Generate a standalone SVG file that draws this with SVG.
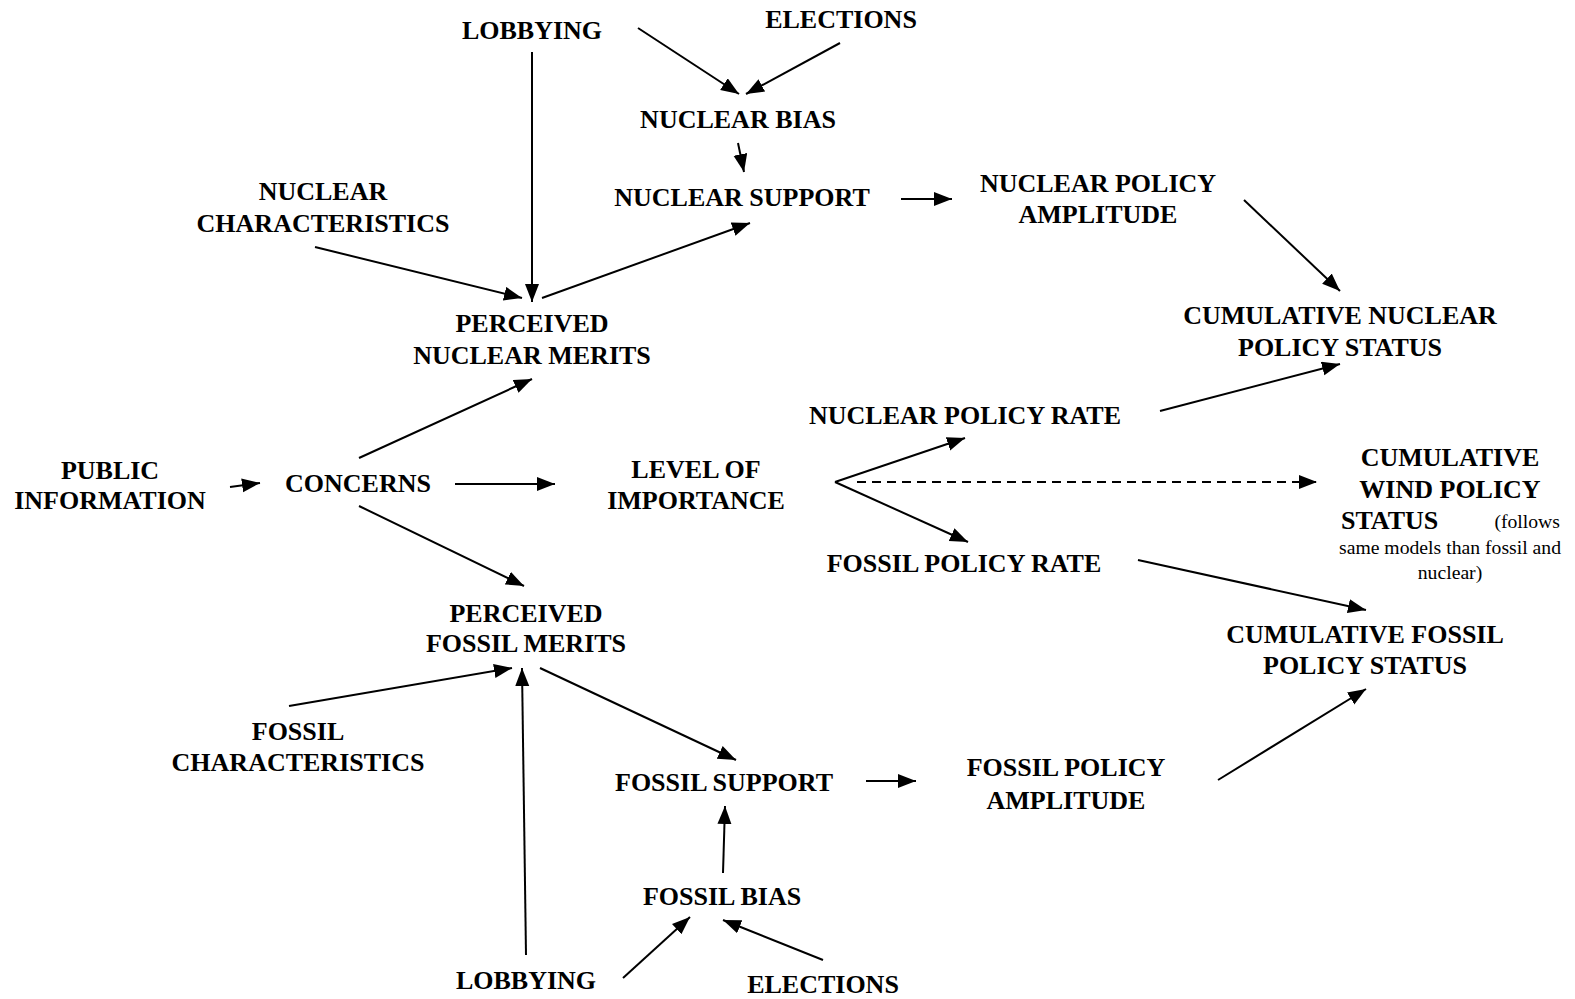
<svg xmlns="http://www.w3.org/2000/svg" width="1575" height="999" viewBox="0 0 1575 999">
<style>
text{font-family:"Liberation Serif","Times New Roman",serif;font-weight:bold;font-size:26px;fill:#000;text-anchor:middle}
text.note{font-weight:normal;font-size:19.7px}
.c line{stroke:#000;stroke-width:2;fill:none;marker-end:url(#ah)}
.c line.d{stroke-dasharray:9,6}
</style>
<defs>
<marker id="ah" markerUnits="userSpaceOnUse" markerWidth="19" markerHeight="15" refX="18" refY="7" orient="auto" viewBox="0 0 19 15">
<path d="M0,0 L18,7 L0,14 z" fill="#000"/>
</marker>
</defs>
<rect width="1575" height="999" fill="#fff"/>
<g id="lobbying-top"><text x="532" y="39">LOBBYING</text></g>
<g id="elections-top"><text x="841" y="28">ELECTIONS</text></g>
<g id="nuclear-bias"><text x="738" y="128">NUCLEAR BIAS</text></g>
<g id="nuclear-support"><text x="742" y="206">NUCLEAR SUPPORT</text></g>
<g id="nuclear-policy-amplitude"><text x="1098" y="192">NUCLEAR POLICY</text><text x="1098" y="223">AMPLITUDE</text></g>
<g id="nuclear-characteristics"><text x="323" y="200">NUCLEAR</text><text x="323" y="232">CHARACTERISTICS</text></g>
<g id="perceived-nuclear-merits"><text x="532" y="332">PERCEIVED</text><text x="532" y="364">NUCLEAR MERITS</text></g>
<g id="cumulative-nuclear"><text x="1340" y="324">CUMULATIVE NUCLEAR</text><text x="1340" y="356">POLICY STATUS</text></g>
<g id="nuclear-policy-rate"><text x="965" y="424">NUCLEAR POLICY RATE</text></g>
<g id="public-information"><text x="110" y="479">PUBLIC</text><text x="110" y="509">INFORMATION</text></g>
<g id="concerns"><text x="358" y="492">CONCERNS</text></g>
<g id="level-of-importance"><text x="696" y="478">LEVEL OF</text><text x="696" y="509">IMPORTANCE</text></g>
<g id="cumulative-wind">
<text x="1450" y="466">CUMULATIVE</text>
<text x="1450" y="498">WIND POLICY</text>
<text x="1341" y="529" style="text-anchor:start">STATUS</text>
<text class="note" x="1560" y="528" style="text-anchor:end">(follows</text>
<text class="note" x="1450" y="554">same models than fossil and</text>
<text class="note" x="1450" y="579">nuclear)</text>
</g>
<g id="fossil-policy-rate"><text x="964" y="572">FOSSIL POLICY RATE</text></g>
<g id="cumulative-fossil"><text x="1365" y="643">CUMULATIVE FOSSIL</text><text x="1365" y="674">POLICY STATUS</text></g>
<g id="perceived-fossil-merits"><text x="526" y="622">PERCEIVED</text><text x="526" y="652">FOSSIL MERITS</text></g>
<g id="fossil-characteristics"><text x="298" y="740">FOSSIL</text><text x="298" y="771">CHARACTERISTICS</text></g>
<g id="fossil-support"><text x="724" y="791">FOSSIL SUPPORT</text></g>
<g id="fossil-policy-amplitude"><text x="1066" y="776">FOSSIL POLICY</text><text x="1066" y="809">AMPLITUDE</text></g>
<g id="fossil-bias"><text x="722" y="905">FOSSIL BIAS</text></g>
<g id="lobbying-bottom"><text x="526" y="989">LOBBYING</text></g>
<g id="elections-bottom"><text x="823" y="993">ELECTIONS</text></g>
<g id="connectors" class="c">
<line x1="638" y1="28" x2="739" y2="94"/>
<line x1="840" y1="43" x2="746" y2="94"/>
<line x1="738" y1="143" x2="744" y2="172"/>
<line x1="532" y1="52" x2="532" y2="302"/>
<line x1="315" y1="247" x2="522" y2="298"/>
<line x1="542" y1="298" x2="750" y2="223"/>
<line x1="901" y1="199" x2="952" y2="199"/>
<line x1="1244" y1="200" x2="1340" y2="291"/>
<line x1="1160" y1="411" x2="1340" y2="364"/>
<line x1="359" y1="458" x2="532" y2="379"/>
<line x1="230" y1="487" x2="260" y2="483"/>
<line x1="455" y1="484" x2="555" y2="484"/>
<line x1="359" y1="506" x2="524" y2="586"/>
<line x1="835" y1="482" x2="965" y2="438"/>
<line x1="835" y1="482" x2="968" y2="542"/>
<line class="d" x1="857" y1="482" x2="1317" y2="482"/>
<line x1="1138" y1="560" x2="1366" y2="610"/>
<line x1="1218" y1="780" x2="1366" y2="689"/>
<line x1="289" y1="706" x2="512" y2="668"/>
<line x1="526" y1="955" x2="522" y2="668"/>
<line x1="540" y1="668" x2="736" y2="760"/>
<line x1="866" y1="781" x2="916" y2="781"/>
<line x1="723" y1="873" x2="725" y2="806"/>
<line x1="623" y1="978" x2="690" y2="917"/>
<line x1="823" y1="960" x2="723" y2="920"/>
</g>
</svg>
